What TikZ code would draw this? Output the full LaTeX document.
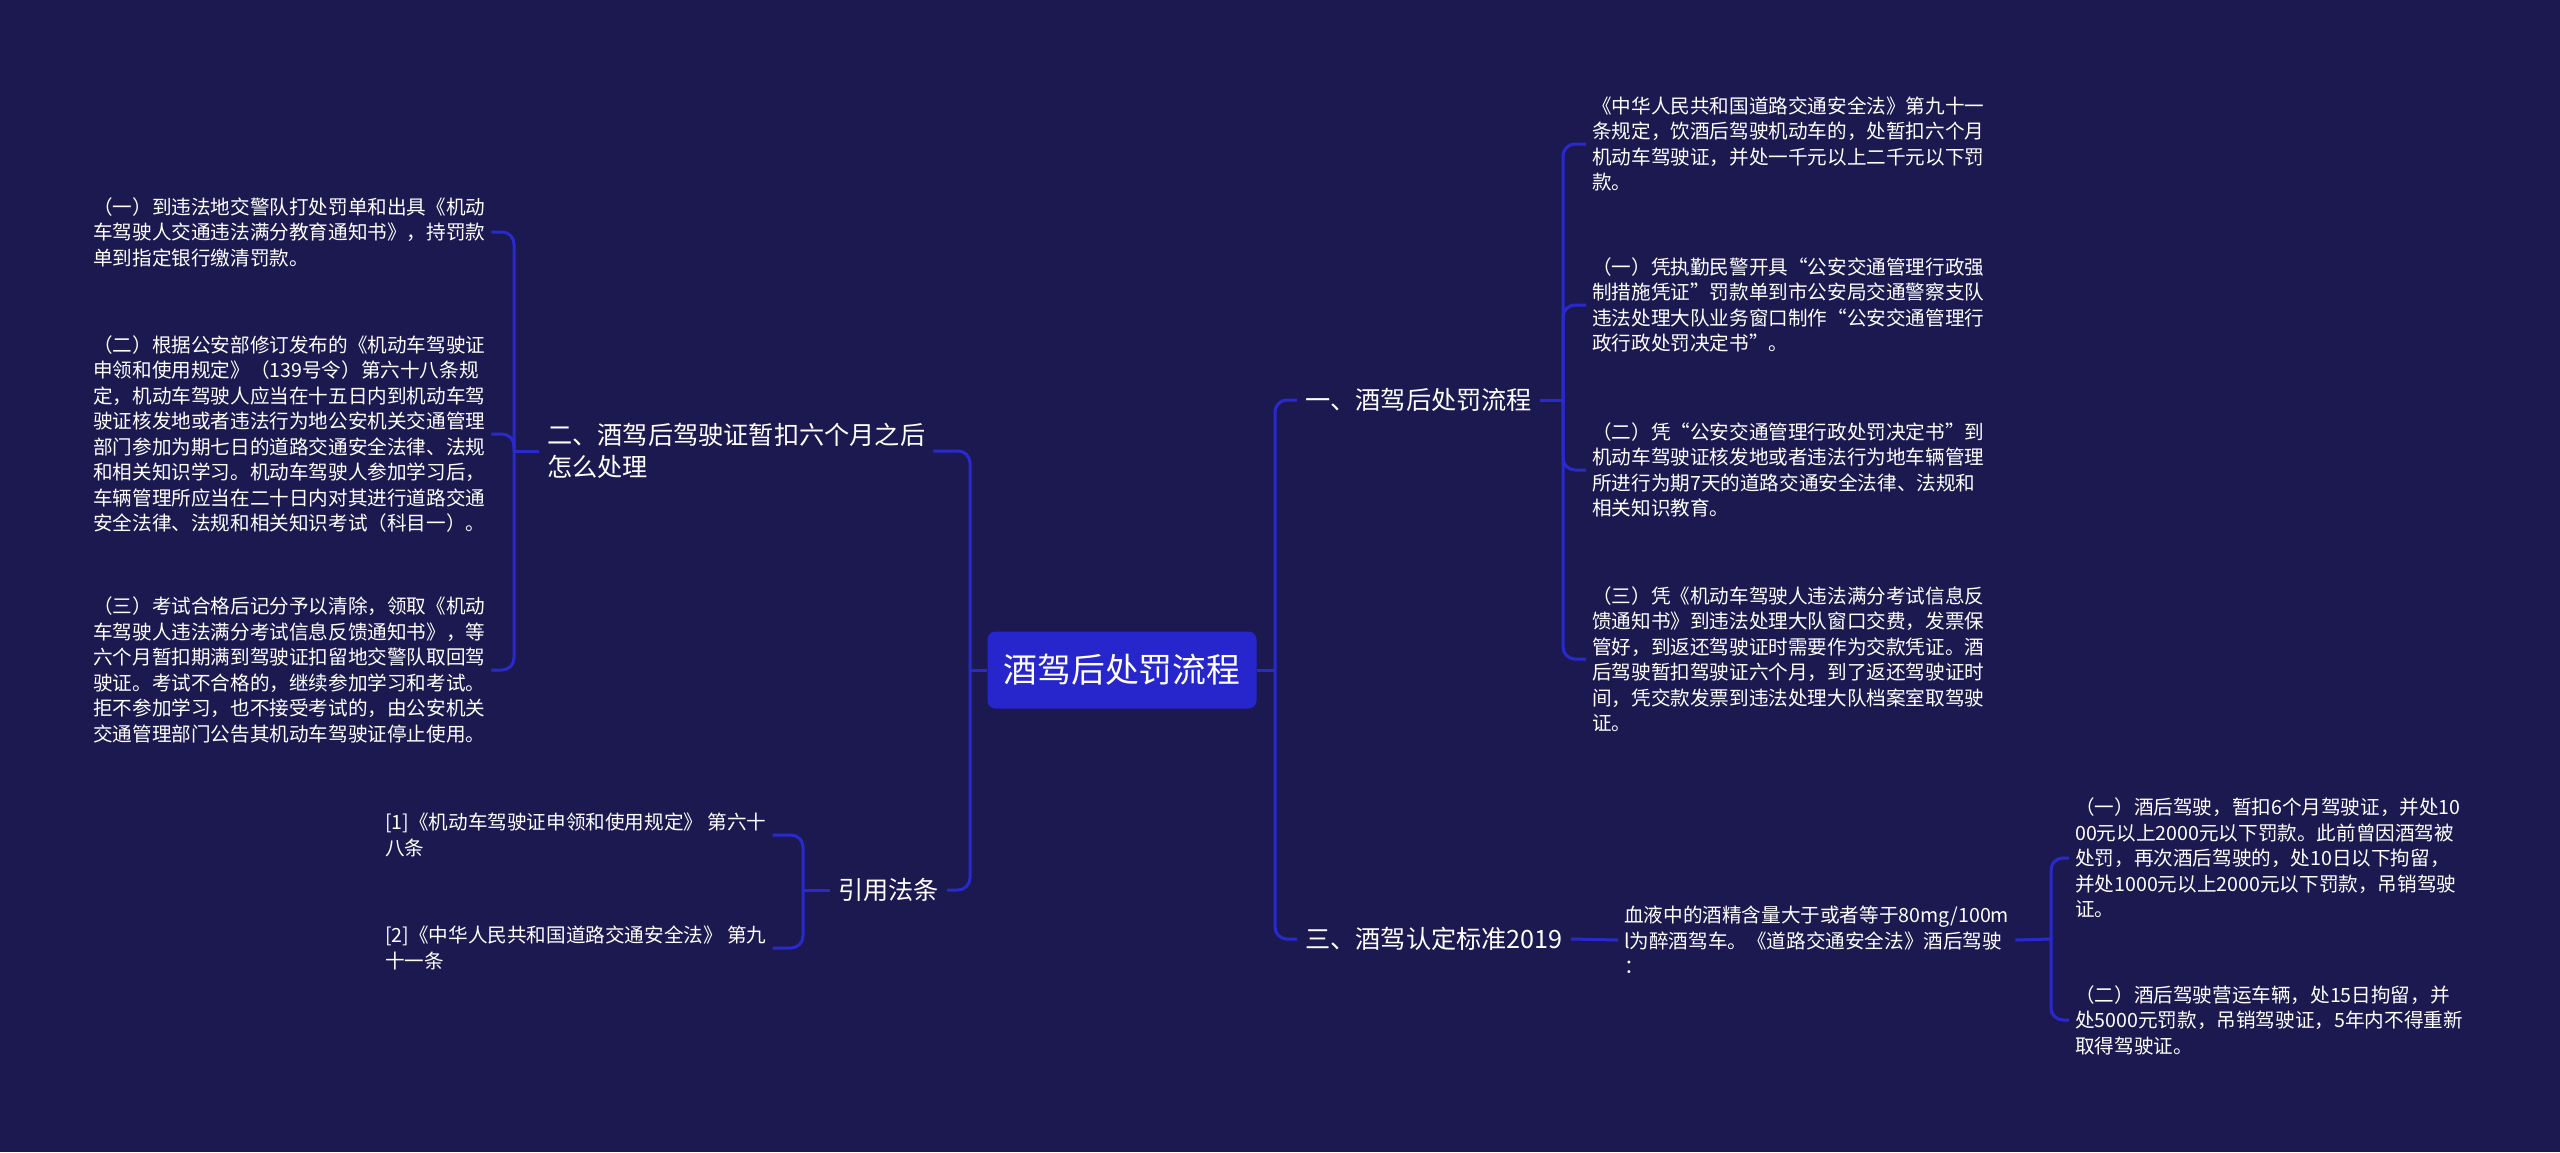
\documentclass[tikz,border=0pt]{standalone}
\usepackage{fontspec}
\setmainfont{Noto Sans CJK SC}
\definecolor{bgnavy}{RGB}{27,25,80}
\definecolor{linkblue}{RGB}{42,42,204}
\definecolor{rootblue}{RGB}{38,38,204}

\begin{document}
\begin{tikzpicture}[
  x=1pt, y=-1pt,
  root/.style={
    rectangle, rounded corners=8pt, fill=rootblue, text=white,
    font=\fontsize{33.8}{40}\selectfont,
    minimum width=269pt, minimum height=77pt, inner sep=0pt
  },
  topic/.style={
    text=white, font=\fontsize{25.2}{32.7}\selectfont,
    align=left, inner xsep=8pt, inner ysep=2pt
  },
  leaf/.style={
    text=white, font=\fontsize{19.6}{25.5}\selectfont,
    align=left, inner xsep=6pt, inner ysep=2pt
  },
  link/.style={draw=linkblue, line width=3pt, rounded corners=12pt},
]

% Canvas
\useasboundingbox (0,0) rectangle (2560,1152);
\fill[bgnavy] (0,0) rectangle (2560,1152);

% Central topic
\node[root] (root) at (1122,670) {酒驾后处罚流程};

% Main branches
\node[topic, anchor=west] (yi) at (1297,400) {一、酒驾后处罚流程};
\node[topic, anchor=west] (san) at (1297,939) {三、酒驾认定标准2019};
\node[topic, anchor=west] (er) at (539,451) {二、酒驾后驾驶证暂扣六个月之后\\怎么处理};
\node[topic, anchor=east] (yin) at (947,890) {引用法条};

% Leaves of branch one
\node[leaf, anchor=west] (a1) at (1586,144)
  {《中华人民共和国道路交通安全法》第九十一\\条规定，饮酒后驾驶机动车的，处暂扣六个月\\机动车驾驶证，并处一千元以上二千元以下罚\\款。};
\node[leaf, anchor=west] (a2) at (1586,305)
  {（一）凭执勤民警开具“公安交通管理行政强\\制措施凭证”罚款单到市公安局交通警察支队\\违法处理大队业务窗口制作“公安交通管理行\\政行政处罚决定书”。};
\node[leaf, anchor=west] (a3) at (1586,470)
  {（二）凭“公安交通管理行政处罚决定书”到\\机动车驾驶证核发地或者违法行为地车辆管理\\所进行为期7天的道路交通安全法律、法规和\\相关知识教育。};
\node[leaf, anchor=west] (a4) at (1586,659)
  {（三）凭《机动车驾驶人违法满分考试信息反\\馈通知书》到违法处理大队窗口交费，发票保\\管好，到返还驾驶证时需要作为交款凭证。酒\\后驾驶暂扣驾驶证六个月，到了返还驾驶证时\\间，凭交款发票到违法处理大队档案室取驾驶\\证。};

% Branch three: standard and penalties
\node[leaf, anchor=west] (mid) at (1618,940)
  {血液中的酒精含量大于或者等于80mg/100m\\l为醉酒驾车。《道路交通安全法》酒后驾驶\\：};
\node[leaf, anchor=west] (c1) at (2069,858)
  {（一）酒后驾驶，暂扣6个月驾驶证，并处10\\00元以上2000元以下罚款。此前曾因酒驾被\\处罚，再次酒后驾驶的，处10日以下拘留，\\并处1000元以上2000元以下罚款，吊销驾驶\\证。};
\node[leaf, anchor=west] (c2) at (2069,1020)
  {（二）酒后驾驶营运车辆，处15日拘留，并\\处5000元罚款，吊销驾驶证，5年内不得重新\\取得驾驶证。};

% Leaves of branch two
\node[leaf, anchor=west] (b1) at (87,232)
  {（一）到违法地交警队打处罚单和出具《机动\\车驾驶人交通违法满分教育通知书》，持罚款\\单到指定银行缴清罚款。};
\node[leaf, anchor=west] (b2) at (87,434)
  {（二）根据公安部修订发布的《机动车驾驶证\\申领和使用规定》（139号令）第六十八条规\\定，机动车驾驶人应当在十五日内到机动车驾\\驶证核发地或者违法行为地公安机关交通管理\\部门参加为期七日的道路交通安全法律、法规\\和相关知识学习。机动车驾驶人参加学习后，\\车辆管理所应当在二十日内对其进行道路交通\\安全法律、法规和相关知识考试（科目一）。};
\node[leaf, anchor=west] (b3) at (87,670)
  {（三）考试合格后记分予以清除，领取《机动\\车驾驶人违法满分考试信息反馈通知书》，等\\六个月暂扣期满到驾驶证扣留地交警队取回驾\\驶证。考试不合格的，继续参加学习和考试。\\拒不参加学习，也不接受考试的，由公安机关\\交通管理部门公告其机动车驾驶证停止使用。};

% Cited articles
\node[leaf, anchor=west] (d1) at (379,835)
  {[1]《机动车驾驶证申领和使用规定》 第六十\\八条};
\node[leaf, anchor=west] (d2) at (379,948)
  {[2]《中华人民共和国道路交通安全法》 第九\\十一条};

% Junction points
\coordinate (jR) at (1275,670);
\coordinate (jA) at (1563,400);
\coordinate (jC) at (2051,939);
\coordinate (jL) at (970,670);
\coordinate (jB) at (514,451);
\coordinate (jD) at (803,890);

% Right side connectors
\draw[link] (root.east) -- (jR);
\draw[link] (jR) |- (yi.west);
\draw[link] (jR) |- (san.west);
\draw[link] (yi.east) -- (jA);
\foreach \n in {a1,a2,a3,a4} {
  \draw[link] (jA) |- (\n.west);
}
\draw[link] (san.east) -- (mid.west);
\draw[link] (mid.east) -- (jC);
\foreach \n in {c1,c2} {
  \draw[link] (jC) |- (\n.west);
}

% Left side connectors
\draw[link] (root.west) -- (jL);
\draw[link] (jL) |- (er.east);
\draw[link] (jL) |- (yin.east);
\draw[link] (er.west) -- (jB);
\foreach \n in {b1,b2,b3} {
  \draw[link] (jB) |- (\n.east);
}
\draw[link] (yin.west) -- (jD);
\foreach \n in {d1,d2} {
  \draw[link] (jD) |- (\n.east);
}

\end{tikzpicture}
\end{document}
